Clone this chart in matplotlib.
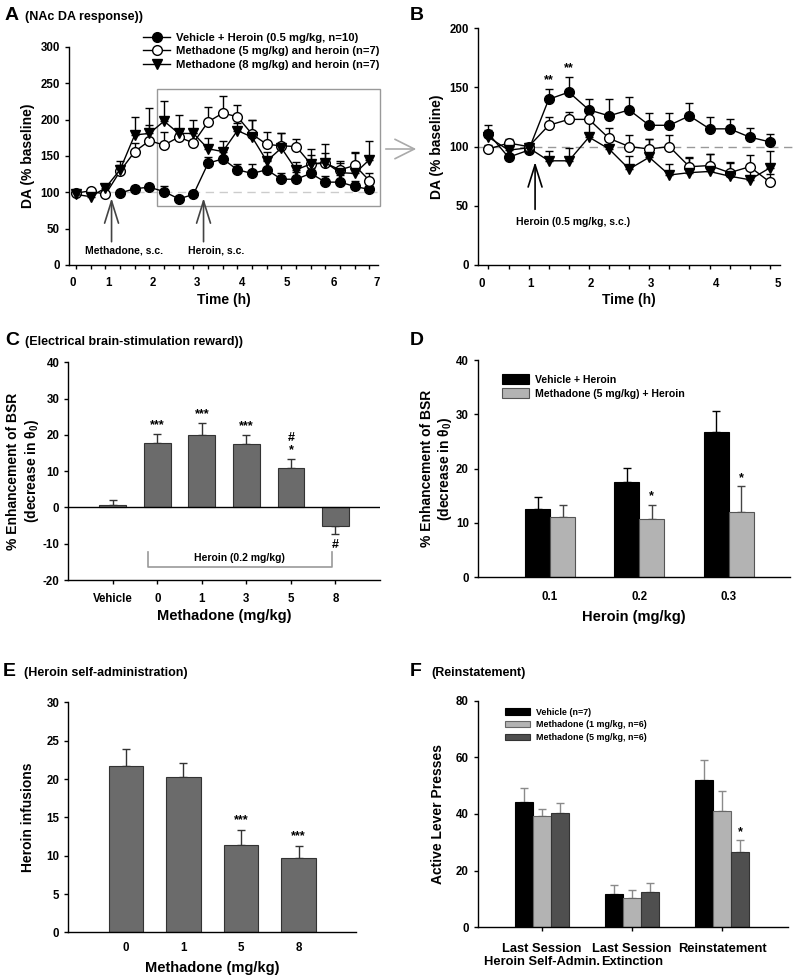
import numpy as np
import matplotlib
matplotlib.use("Agg")
import matplotlib.pyplot as plt
from matplotlib.patches import Rectangle, FancyArrowPatch

plt.rcParams['font.family'] = ['Liberation Sans', 'DejaVu Sans']
plt.rcParams['font.weight'] = 'bold'
plt.rcParams['axes.labelweight'] = 'bold'
plt.rcParams['mathtext.default'] = 'regular'
plt.rcParams['axes.linewidth'] = 1.0
plt.rcParams['axes.unicode_minus'] = False

nan = np.nan

# ---- A: NAc DA response (21 samples)
a_tick_labels = ['0', '1', '2', '3', '4', '5', '6', '7']
a_veh = [nan, nan, nan, 99, 105, 107, 101, 91, 97, 140, 146, 131, 126, 131, 118, 118, 126, 114, 114, 108, 104]
a_veh_err = [0, 0, 0, 3, 4, 4, 7, 4, 4, 9, 12, 8, 13, 13, 8, 10, 8, 9, 10, 7, 8]
a_m5 = [99, 102, 97, 129, 156, 171, 165, 176, 168, 197, 209, 204, 180, 166, 164, 163, 139, 140, 131, 137, 116]
a_m5_err = [2, 3, 3, 8, 12, 22, 18, 8, 14, 20, 24, 16, 20, 17, 17, 11, 12, 14, 12, 17, 11]
a_m8 = [97, 94, 106, 131, 179, 181, 198, 181, 181, 160, 156, 185, 176, 143, 161, 131, 139, 141, 127, 126, 145]
a_m8_err = [2, 3, 4, 12, 25, 35, 28, 25, 19, 15, 15, 10, 23, 13, 20, 11, 20, 26, 14, 30, 26]

# ---- B: zoom of heroin response (15 samples)
b_tick_labels = ['0', '1', '2', '3', '4', '5']
b_veh = [111, 91, 97, 140, 146, 131, 126, 131, 118, 118, 126, 115, 115, 108, 104]
b_veh_err = [7, 3, 3, 9, 13, 9, 14, 11, 10, 10, 11, 10, 8, 8, 7]
b_m5 = [98, 103, 100, 118, 123, 123, 107, 100, 98, 100, 83, 84, 78, 83, 70]
b_m5_err = [3, 3, 3, 7, 6, 6, 9, 10, 8, 10, 7, 10, 8, 10, 7]
b_m8 = [108, 97, 99, 88, 88, 108, 98, 81, 91, 76, 78, 79, 75, 72, 82]
b_m8_err = [6, 3, 2, 8, 11, 15, 10, 11, 15, 9, 13, 15, 12, 8, 14]

# ---- C: brain-stimulation reward
c_labels = ['Vehicle', '0', '1', '3', '5', '8']
c_vals = [0.7, 17.7, 20.0, 17.5, 10.8, -5.0]
c_err = [1.4, 2.6, 3.3, 2.5, 2.6, 2.4]
c_marks = ['', '***', '***', '***', '#\n*', '#']

# ---- D
d_labels = ['0.1', '0.2', '0.3']
d_veh = [12.6, 17.6, 26.7]
d_veh_err = [2.2, 2.6, 4.0]
d_met = [11.1, 10.8, 12.1]
d_met_err = [2.2, 2.6, 4.7]
d_marks = ['', '*', '*']

# ---- E
e_labels = ['0', '1', '5', '8']
e_vals = [21.7, 20.3, 11.4, 9.7]
e_err = [2.2, 1.8, 1.9, 1.5]
e_marks = ['', '', '***', '***']

# ---- F
f_labels = ['Last Session\nHeroin Self-Admin.', 'Last Session\nExtinction', 'Reinstatement']
f_veh = [44.4, 11.6, 51.9]
f_veh_err = [4.9, 3.3, 7.2]
f_m1 = [39.4, 10.2, 40.9]
f_m1_err = [2.4, 3.0, 7.2]
f_m5 = [40.5, 12.6, 26.5]
f_m5_err = [3.3, 3.2, 4.3]
f_marks = ['', '', '*']

fig = plt.figure(figsize=(7.95, 9.77), dpi=100)

def style(ax, fs=8.3):
    ax.spines['top'].set_visible(False)
    ax.spines['right'].set_visible(False)
    ax.tick_params(direction='out', length=3, width=1, labelsize=fs)
    for t in ax.get_xticklabels() + ax.get_yticklabels():
        t.set_fontweight('bold')

def panel_title(x, y, letter, text):
    fig.text(x, y, letter, fontsize=14, fontweight='bold', va='baseline')
    if text:
        fig.text(x + 0.026, y, text, fontsize=9, fontweight='bold', va='baseline')

def time_course(ax, series, label_pos, labels, n):
    x = np.arange(n)
    for vals, err, mk, fc, lab in series:
        vals = np.array(vals, dtype=float)
        err = np.array(err, dtype=float)
        ax.errorbar(x, vals, yerr=[np.zeros(n), err], fmt='none', ecolor='black',
                    elinewidth=1, capsize=3, capthick=1, zorder=2)
        ax.plot(x, vals, color='black', lw=1, marker=mk, ms=7, mfc=fc, mec='black',
                mew=1, label=lab, zorder=3)
    ax.set_xticks(x)
    ax.set_xticklabels([])
    for p, l in zip(label_pos, labels):
        ax.text(p, -0.055, l, transform=ax.get_xaxis_transform(), ha='center', va='top',
                fontsize=8.3, fontweight='bold')

# ================= A
axA = fig.add_axes([0.0868, 0.7288, 0.389, 0.2231])
a_series = [(a_veh, a_veh_err, 'o', 'black', 'Vehicle + Heroin (0.5 mg/kg, n=10)'),
            (a_m5, a_m5_err, 'o', 'white', 'Methadone (5 mg/kg) and heroin (n=7)'),
            (a_m8, a_m8_err, 'v', 'black', 'Methadone (8 mg/kg) and heroin (n=7)')]
axA.plot([2.2, 20.5], [100, 100], color='#cccccc', lw=1, ls=(0, (6, 4)), zorder=1)
time_course(axA, a_series, [-0.25, 2.19, 5.2, 8.26, 11.3, 14.4, 17.6, 20.5], a_tick_labels, 21)
axA.set_xlim(-0.48, 20.6)
axA.set_ylim(0, 300)
axA.set_yticks(np.arange(0, 301, 50))
axA.set_xlabel('Time (h)', fontsize=10, labelpad=14)
axA.set_ylabel('DA (% baseline)', fontsize=10)
style(axA)
axA.add_patch(Rectangle((5.55, 81), 20.7 - 5.55, 242 - 81, fill=False, ec='#999999', lw=1,
                        clip_on=False, zorder=1))
axA.legend(loc='upper left', bbox_to_anchor=(0.225, 1.085), frameon=False, fontsize=8.1,
           handlelength=2.4, labelspacing=0.3, borderaxespad=0, handletextpad=0.5)
arrow_kw = dict(arrowstyle='->,head_length=0.8,head_width=0.25', color='#444444', lw=1.2,
                shrinkA=0, shrinkB=0, mutation_scale=20)
axA.annotate('', xy=(2.42, 92), xytext=(2.42, 32), arrowprops=arrow_kw)
axA.annotate('', xy=(8.69, 92), xytext=(8.69, 32), arrowprops=arrow_kw)
axA.text(3.3, 20, 'Methadone, s.c.', ha='center', va='center', fontsize=7.5)
axA.text(9.55, 20, 'Heroin, s.c.', ha='center', va='center', fontsize=7.5)
panel_title(0.006, 0.9795, 'A', '(NAc DA response))')

# arrow linking A box to B
fig.add_artist(FancyArrowPatch((383 / 795, 1 - 149 / 977), (419 / 795, 1 - 149 / 977),
               arrowstyle='->,head_length=0.7,head_width=0.35', mutation_scale=20,
               color='#aaaaaa', lw=1.2, transform=fig.transFigure))

# ================= B
axB = fig.add_axes([0.601, 0.7288, 0.380, 0.2423])
axB.plot([-0.5, 15.2], [100, 100], color='#999999', lw=1, ls=(0, (6, 4)), zorder=1, clip_on=False)
b_series = [(b_veh, b_veh_err, 'o', 'black', 'veh'),
            (b_m5, b_m5_err, 'o', 'white', 'm5'),
            (b_m8, b_m8_err, 'v', 'black', 'm8')]
time_course(axB, b_series, [-0.31, 2.08, 5.1, 8.1, 11.3, 14.4], b_tick_labels, 15)
axB.set_xlim(-0.53, 14.5)
axB.set_ylim(0, 200)
axB.set_yticks(np.arange(0, 201, 50))
axB.set_xlabel('Time (h)', fontsize=10, labelpad=14)
axB.set_ylabel('DA (% baseline)', fontsize=10)
style(axB)
for i in [3, 4]:
    axB.text(i, b_veh[i] + b_veh_err[i] + 2, '**', ha='center', va='bottom', fontsize=9)
axB.annotate('', xy=(2.32, 87), xytext=(2.32, 47),
             arrowprops=dict(arrowstyle='->,head_length=0.8,head_width=0.25', color='black', lw=1.2,
                             shrinkA=0, shrinkB=0, mutation_scale=20))
axB.text(4.2, 36, 'Heroin (0.5 mg/kg, s.c.)', ha='center', va='center', fontsize=7.5)
panel_title(0.516, 0.9795, 'B', '')

# ================= C
axC = fig.add_axes([0.0859, 0.4063, 0.392, 0.2228])
xc = np.arange(len(c_labels))
c_vals_a = np.array(c_vals)
c_err_a = np.array(c_err)
lo = np.where(c_vals_a < 0, c_err_a, 0)
hi = np.where(c_vals_a >= 0, c_err_a, 0)
axC.errorbar(xc, c_vals, yerr=[lo, hi], fmt='none', ecolor='#333333', elinewidth=1, capsize=3, zorder=1)
axC.bar(xc, c_vals, width=0.6, color='#6b6b6b', edgecolor='#333333', lw=0.8, zorder=2)
axC.axhline(0, color='black', lw=1, zorder=3)
for i, m in enumerate(c_marks):
    if not m:
        continue
    if c_vals[i] >= 0:
        axC.text(i, c_vals[i] + c_err[i] + 0.8, m, ha='center', va='bottom', fontsize=9, linespacing=0.95)
    else:
        axC.text(i, c_vals[i] - c_err[i] - 1.2, m, ha='center', va='top', fontsize=9)
# heroin bracket
axC.plot([0.8, 0.8, 4.93, 4.93], [-12.3, -16.3, -16.3, -12.3], color='#999999', lw=1.2)
axC.text(2.85, -14, 'Heroin (0.2 mg/kg)', ha='center', va='center', fontsize=7.5)
axC.set_xlim(-1, 6)
axC.set_ylim(-20, 40)
axC.set_yticks(np.arange(-20, 41, 10))
axC.set_xticks(xc)
axC.set_xticklabels(c_labels)
axC.set_xlabel('Methadone (mg/kg)', fontsize=10.5, labelpad=3)
axC.set_ylabel('% Enhancement of BSR\n(decrease in $\\theta_0$)', fontsize=10, labelpad=1)
style(axC)
axC.tick_params(axis='x', pad=6)
panel_title(0.006, 0.6465, 'C', '(Electrical brain-stimulation reward))')

# ================= D
axD = fig.add_axes([0.601, 0.4091, 0.393, 0.2224])
xd = np.arange(len(d_labels))
w = 0.28
axD.errorbar(xd - w / 2, d_veh, yerr=[np.zeros(3), d_veh_err], fmt='none', ecolor='black',
             elinewidth=1, capsize=3, zorder=1)
axD.errorbar(xd + w / 2, d_met, yerr=[np.zeros(3), d_met_err], fmt='none', ecolor='#444444',
             elinewidth=1, capsize=3, zorder=1)
axD.bar(xd - w / 2, d_veh, width=w, color='black', edgecolor='black', lw=0.8, zorder=2,
        label='Vehicle + Heroin')
axD.bar(xd + w / 2, d_met, width=w, color='#b3b3b3', edgecolor='#555555', lw=0.8, zorder=2,
        label='Methadone (5 mg/kg) + Heroin')
for i, m in enumerate(d_marks):
    if m:
        axD.text(i + w / 2, d_met[i] + d_met_err[i] + 0.4, m, ha='center', va='bottom', fontsize=9)
axD.set_xlim(-0.81, 2.69)
axD.set_ylim(0, 40)
axD.set_yticks(np.arange(0, 41, 10))
axD.set_xticks(xd)
axD.set_xticklabels(d_labels)
axD.set_xlabel('Heroin (mg/kg)', fontsize=10.5, labelpad=5)
axD.set_ylabel('% Enhancement of BSR\n(decrease in $\\theta_0$)', fontsize=10, labelpad=1)
style(axD)
axD.tick_params(axis='x', length=0, pad=10)
axD.legend(loc='upper left', bbox_to_anchor=(0.065, 0.955), frameon=False, fontsize=7.6,
           handlelength=2.5, handleheight=1.1, labelspacing=0.3, borderaxespad=0, handletextpad=0.6)
panel_title(0.516, 0.6465, 'D', '')

# ================= E
axE = fig.add_axes([0.0859, 0.0457, 0.362, 0.2354])
xe = np.arange(len(e_labels))
axE.errorbar(xe, e_vals, yerr=[np.zeros(4), e_err], fmt='none', ecolor='#333333', elinewidth=1,
             capsize=3, zorder=1)
axE.bar(xe, e_vals, width=0.6, color='#6b6b6b', edgecolor='#333333', lw=0.8, zorder=2)
for i, m in enumerate(e_marks):
    if m:
        axE.text(i, e_vals[i] + e_err[i] + 0.5, m, ha='center', va='bottom', fontsize=9)
axE.set_xlim(-1, 4)
axE.set_ylim(0, 30)
axE.set_yticks(np.arange(0, 31, 5))
axE.set_xticks(xe)
axE.set_xticklabels(e_labels)
axE.set_xlabel('Methadone (mg/kg)', fontsize=10.5, labelpad=5)
axE.set_ylabel('Heroin infusions', fontsize=10, labelpad=8)
style(axE)
axE.tick_params(axis='x', length=0, pad=7)
panel_title(0.004, 0.3085, 'E', '(Heroin self-administration)')

# ================= F
axF = fig.add_axes([0.601, 0.0509, 0.3905, 0.2319])
xf = np.arange(len(f_labels))
wf = 0.2
for off, vals, err, col, ec, lab in [(-wf, f_veh, f_veh_err, 'black', 'black', 'Vehicle (n=7)'),
                                     (0, f_m1, f_m1_err, '#b3b3b3', '#666666', 'Methadone (1 mg/kg, n=6)'),
                                     (wf, f_m5, f_m5_err, '#4f4f4f', '#333333', 'Methadone (5 mg/kg, n=6)')]:
    axF.errorbar(xf + off, vals, yerr=[np.zeros(3), err], fmt='none', ecolor='#8a8a8a',
                 elinewidth=1, capsize=3, zorder=1)
    axF.bar(xf + off, vals, width=wf, color=col, edgecolor=ec, lw=0.8, zorder=2, label=lab)
for i, m in enumerate(f_marks):
    if m:
        axF.text(i + wf, f_m5[i] + f_m5_err[i] + 0.8, m, ha='center', va='bottom', fontsize=9)
axF.set_xlim(-0.71, 2.73)
axF.set_ylim(0, 80)
axF.set_yticks(np.arange(0, 81, 20))
axF.set_xticks(xf)
axF.set_xticklabels(f_labels)
axF.set_ylabel('Active Lever Presses', fontsize=10, labelpad=8)
style(axF)
for t in axF.get_xticklabels():
    t.set_fontsize(9.3)
axF.tick_params(axis='x', length=3, pad=8)
axF.legend(loc='upper left', bbox_to_anchor=(0.075, 0.985), frameon=False, fontsize=6.4,
           handlelength=2.9, handleheight=0.7, labelspacing=0.4, borderaxespad=0, handletextpad=0.6)
panel_title(0.516, 0.3085, 'F', '(Reinstatement)')

fig.savefig('out.png', dpi=100)
